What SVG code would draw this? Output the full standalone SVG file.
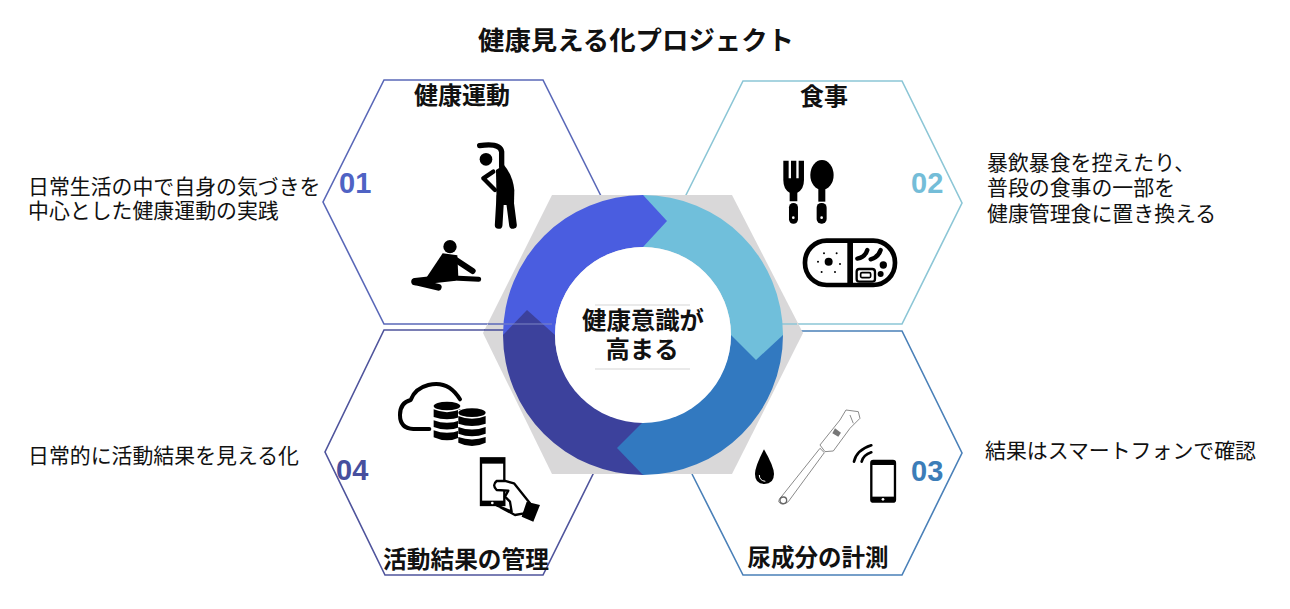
<svg xmlns="http://www.w3.org/2000/svg" width="1290" height="609" viewBox="0 0 1290 609">
<style>
text{font-family:"Noto Sans CJK JP","Liberation Sans",sans-serif;fill:#111}
.b{font-weight:700;text-anchor:middle}
.s{font-size:20.9px}
.n{font-family:"Liberation Sans",sans-serif;font-weight:700;font-size:29px}
.h{fill:none;stroke-width:1.6}
.k{fill:none;stroke:#000;stroke-linecap:round;stroke-linejoin:round}
.g{fill:none;stroke:#777;stroke-width:2.6;stroke-linejoin:round}
</style>
<rect width="1290" height="609" fill="#fff"/>
<text class="b" x="636" y="50" font-size="26.4">健康見える化プロジェクト</text>

<g id="node-01">
<path class="h" stroke="#5a68b8" d="M604 202L543 80H384L323 202L384 324H543"/>
<text class="b" x="462" y="104" font-size="24">健康運動</text>
<text class="n" x="339" y="193" style="fill:#4f63c4">01</text>
<text class="s" x="28" y="194">日常生活の中で自身の気づきを</text>
<text class="s" x="28" y="218">中心とした健康運動の実践</text>
<g transform="translate(320 70) scale(.3333)">
<circle cx="498" cy="268" r="19"/>
<path class="k" stroke-width="16" d="M479 227Q540 218 545 245V290"/>
<path d="M528 300L552 285Q578 315 583 360L582 405H530Z"/>
<path class="k" stroke-width="13" d="M520 305L490 325L525 360"/>
<path class="k" stroke-width="23" d="M541 380L536 465M568 380L579 465"/>
<circle cx="390" cy="530" r="20"/>
<path d="M368 550L412 556L415 622L320 622Z"/>
<path class="k" stroke-width="18" d="M400 565L458 603"/>
<path class="k" stroke-width="22" d="M285 635L400 622"/>
<path class="k" stroke-width="20" d="M285 635L355 652"/>
<path class="k" stroke-width="15" d="M400 624L476 628"/>
</g>
</g>

<g id="node-02">
<path class="h" stroke="#8cc6d6" d="M682 203L743 81H902L962 203L902 324H743"/>
<text class="b" x="824" y="105" font-size="24">食事</text>
<text class="n" x="911" y="193" style="fill:#74bdd8">02</text>
<text class="s" x="987" y="170">暴飲暴食を控えたり、</text>
<text class="s" x="987" y="195">普段の食事の一部を</text>
<text class="s" x="987" y="221">健康管理食に置き換える</text>
<g transform="translate(640 70) scale(.3333)">
<path d="M430 272H446V325H453V272H469V325H476V272H492V330Q492 358 472 368V394H449V368Q430 358 430 330Z"/>
<rect x="447" y="399" width="27" height="62" rx="13"/>
<circle cx="460" cy="443" r="4" fill="#fff"/>
<ellipse cx="546" cy="315" rx="35" ry="45"/>
<rect x="535" y="345" width="21" height="50"/>
<rect x="530" y="399" width="30" height="62" rx="14"/>
<circle cx="545" cy="443" r="4" fill="#fff"/>
<rect x="495" y="512" width="270" height="133" rx="65" fill="#fff" stroke="#000" stroke-width="14"/>
<rect x="622" y="512" width="17" height="133"/>
<circle cx="566" cy="575" r="12"/>
<g fill="#000"><circle cx="552" cy="550" r="3"/><circle cx="590" cy="550" r="3"/><circle cx="534" cy="575" r="3"/><circle cx="600" cy="582" r="3"/><circle cx="545" cy="606" r="3"/><circle cx="585" cy="606" r="3"/><circle cx="730" cy="585" r="11"/><circle cx="722" cy="612" r="9"/></g>
<path class="k" stroke-width="13" d="M652 566Q675 562 682 540M692 568Q715 562 722 540"/>
<rect x="650" y="597" width="55" height="38" rx="8" fill="none" stroke="#000" stroke-width="7"/>
<rect x="662" y="608" width="30" height="15" rx="4" fill="none" stroke="#000" stroke-width="5"/>
</g>
</g>

<g id="node-03">
<path class="h" stroke="#4a80b8" d="M800 331H902L962 453L902 575H743L692 474"/>
<text class="b" x="818" y="566" font-size="23.5">尿成分の計測</text>
<text class="n" x="911" y="481" style="fill:#3c7db8">03</text>
<text class="s" x="985" y="458">結果はスマートフォンで確認</text>
<g transform="translate(640 320) scale(.3333)">
<path d="M372 388Q345 440 345 462Q345 492 373 492Q402 492 402 462Q402 440 372 388Z"/>
<path d="M358 465Q358 482 376 484" fill="none" stroke="#fff" stroke-width="3"/>
<path class="g" d="M418 538L540 385L553 398L445 545Q425 560 416 545Z"/>
<circle cx="430" cy="541" r="10" fill="none" stroke="#666" stroke-width="4"/>
<path class="g" d="M540 375L600 300L618 270L655 275L660 295L630 325L580 393L555 395Z" fill="#fff"/>
<path class="g" d="M630 285L640 310"/>
<path d="M585 325L603 338L595 350L577 340Z" fill="#777"/>
<rect x="694" y="423" width="71" height="122" rx="6" fill="#fff" stroke="#000" stroke-width="7"/>
<rect x="694" y="423" width="71" height="12"/>
<rect x="694" y="530" width="71" height="15"/>
<circle cx="729" cy="538" r="4" fill="#fff"/>
<path class="k" stroke-width="8" d="M642 425Q650 390 694 376M665 425Q670 405 694 397"/>
</g>
</g>

<g id="node-04">
<path class="h" stroke="#4f549c" d="M543 330H384L325 452L385 575H543L604 452"/>
<text class="b" x="466" y="568" font-size="23.7">活動結果の管理</text>
<text class="n" x="336" y="480" style="fill:#474f9e">04</text>
<text class="s" x="28" y="463">日常的に活動結果を見える化</text>
<g transform="translate(320 320) scale(.3333)">
<path class="k" stroke-width="12" d="M328 327H280Q240 325 240 285Q240 248 272 240Q285 205 325 195Q385 180 420 238"/>
<ellipse cx="381" cy="258" rx="40" ry="13"/><path d="M341 268Q381 285 421 268V291Q381 305 341 291Z"/><path d="M341 301Q381 316 421 301V321Q381 336 341 321Z"/><path d="M341 331Q381 346 421 331V352Q381 370 341 352Z"/>
<path d="M414 270h84v115h-84z" fill="#fff"/>
<ellipse cx="456" cy="278" rx="41" ry="13"/><path d="M415 288Q456 305 497 288V311Q456 325 415 311Z"/><path d="M415 321Q456 336 497 321V341Q456 356 415 341Z"/><path d="M415 351Q456 366 497 351V368Q456 388 415 368Z"/>
<rect x="483" y="415" width="70" height="140" fill="#fff" stroke="#000" stroke-width="7"/>
<rect x="483" y="415" width="70" height="16"/>
<rect x="483" y="542" width="70" height="14"/>
<circle cx="517" cy="549" r="4" fill="#fff"/>
<path d="M555 483L530 483Q515 495 530 510L565 512L555 530L570 545L575 575L530 556L585 585L612 580L630 550L582 490Z" fill="#fff" stroke="#000" stroke-width="7" stroke-linejoin="round"/>
<path d="M620 545L660 555L640 605L605 590Z"/>
</g>
</g>

<path d="M552 195H732L803 333L732 474H552L483 333Z" fill="#d9d8d9"/>
<path class="h" stroke="#5a68b8" d="M488 324H543"/>
<path class="h" stroke="#4f549c" d="M484 330H510"/>
<path class="h" stroke="#8cc6d6" d="M745 324H797"/>

<g id="connectors">
<path fill="#4a5de0" d="M503 335A140 140 0 0 1 643 195V247A88 88 0 0 0 555 335Z"/>
<path fill="#70bfdb" d="M643 195A140 140 0 0 1 783 335H731A88 88 0 0 0 643 247Z"/>
<path fill="#3279c0" d="M783 335A140 140 0 0 1 643 475V422A88 88 0 0 0 731 335Z"/>
<path fill="#3c419c" d="M643 475A140 140 0 0 1 503 335H555A88 88 0 0 0 643 422Z"/>
<path fill="#4a5de0" d="M643 195L667 221L643 247Z"/>
<path fill="#70bfdb" d="M783 335L756 360L731 335Z"/>
<path fill="#3279c0" d="M643 475L617 448L643 422Z"/>
<path fill="#3c419c" d="M503 335L527 310L555 335Z"/>
<path stroke="#7c86c4" stroke-width="1" d="M503 324H552"/>
</g>

<g id="node-center">
<circle cx="643" cy="335" r="88" fill="#fff"/>
<path stroke="#d5d5d5" stroke-width="1.2" d="M595 305H690M595 369H690"/>
<text class="b" x="643" y="329" font-size="24.4">健康意識が</text>
<text class="b" x="642" y="358" font-size="24.4">高まる</text>
</g>
</svg>
